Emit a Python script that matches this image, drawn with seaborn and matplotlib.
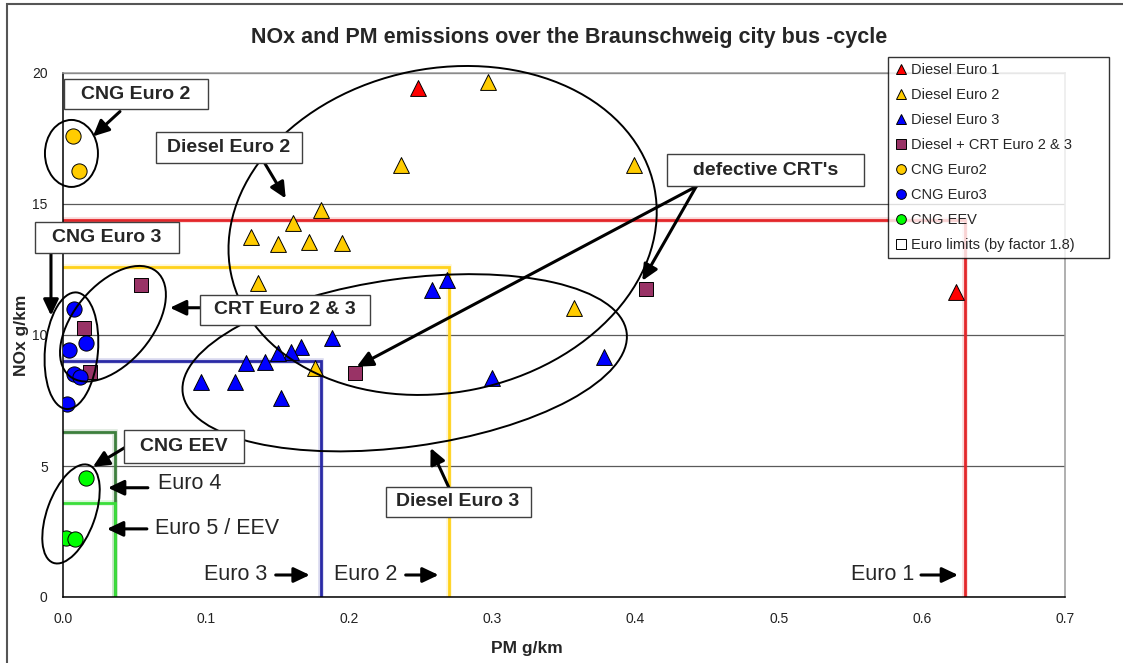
import matplotlib
matplotlib.use("Agg")
import matplotlib.pyplot as plt
import seaborn as sns
import pandas as pd
from matplotlib.transforms import Affine2D, ScaledTranslation
from matplotlib.patches import Ellipse, Rectangle
from matplotlib.lines import Line2D

# ---------------- data ----------------
title = "NOx and PM emissions over the Braunschweig city bus -cycle"
x_label = "PM g/km"
y_label = "NOx g/km"

diesel_e1_pm = [0.248, 0.624]
diesel_e1_nox = [19.43, 11.64]

diesel_e2_pm = [0.297, 0.236, 0.399, 0.180, 0.161, 0.131, 0.150, 0.172, 0.195, 0.136, 0.357, 0.176]
diesel_e2_nox = [19.66, 16.49, 16.49, 14.77, 14.27, 13.74, 13.47, 13.55, 13.51, 11.98, 11.03, 8.74]

diesel_e3_pm = [0.268, 0.258, 0.188, 0.166, 0.159, 0.150, 0.141, 0.128, 0.0965, 0.120, 0.152, 0.378, 0.300]
diesel_e3_nox = [12.10, 11.72, 9.89, 9.54, 9.35, 9.31, 8.97, 8.93, 8.21, 8.21, 7.60, 9.16, 8.36]

crt_pm = [0.0545, 0.0147, 0.019, 0.204, 0.407]
crt_nox = [11.90, 10.27, 8.60, 8.55, 11.76]

cng_e2_pm = [0.007, 0.011]
cng_e2_nox = [17.60, 16.26]

cng_e3_pm = [0.008, 0.016, 0.0042, 0.0077, 0.012, 0.0028]
cng_e3_nox = [10.99, 9.69, 9.43, 8.51, 8.40, 7.37]

cng_eev_pm = [0.016, 0.002, 0.0084]
cng_eev_nox = [4.54, 2.25, 2.21]

series_names = ["Diesel Euro 1", "Diesel Euro 2", "Diesel Euro 3",
                "Diesel + CRT Euro 2 & 3", "CNG Euro2", "CNG Euro3", "CNG EEV"]
legend_limits_name = "Euro limits (by factor 1.8)"

# Euro limits (already multiplied by factor 1.8)
euro_labels = ["Euro 1", "Euro 2", "Euro 3", "Euro 4", "Euro 5 / EEV"]
limit_nox = [14.4, 12.6, 9.0, 6.3, 3.6]
limit_pm = [0.63, 0.27, 0.18, 0.036, 0.036]

# ---------------- style ----------------
sns.set_style("white")
plt.rcParams["font.family"] = ["Liberation Sans", "DejaVu Sans"]

W, H = 1123, 663
fig = plt.figure(figsize=(W / 100, H / 100), dpi=100)
ax = fig.add_axes([63 / W, (H - 597) / H, (1065 - 63) / W, (597 - 73) / H])
ax.set_xlim(0, 0.7)
ax.set_ylim(0, 20)

# ---------------- limit lines ----------------
limit_colors = ["#e3262a", "#ffd21a", "#2a2aa6", "#3d7f3d", "#3ade3a"]
for nox, pm, col in zip(limit_nox, limit_pm, limit_colors):
    ax.plot([0, pm, pm], [nox, nox, 0], color=col, lw=4, alpha=0.18,
            solid_joinstyle="miter", zorder=2)
    ax.plot([0, pm, pm], [nox, nox, 0], color=col, lw=2.0,
            solid_joinstyle="miter", zorder=2.1)

# ---------------- scatter ----------------
groups = [
    (diesel_e1_pm, diesel_e1_nox, "^", "#ff0000", 130),
    (diesel_e2_pm, diesel_e2_nox, "^", "#ffcc00", 130),
    (diesel_e3_pm, diesel_e3_nox, "^", "#0000ff", 130),
    (crt_pm, crt_nox, "s", "#993366", 92),
    (cng_e2_pm, cng_e2_nox, "o", "#ffcc00", 120),
    (cng_e3_pm, cng_e3_nox, "o", "#0000ff", 120),
    (cng_eev_pm, cng_eev_nox, "o", "#00ff00", 120),
]
for (xs, ys, mk, col, s), name in zip(groups, series_names):
    df = pd.DataFrame({"pm": xs, "nox": ys})
    sns.scatterplot(data=df, x="pm", y="nox", marker=mk, color=col, s=s,
                    edgecolor="black", linewidth=0.7, ax=ax, zorder=3,
                    legend=False)

# ---------------- axes styling ----------------
ax.set_xticks([0, 0.1, 0.2, 0.3, 0.4, 0.5, 0.6, 0.7])
ax.set_xticklabels(["0.0", "0.1", "0.2", "0.3", "0.4", "0.5", "0.6", "0.7"])
ax.set_yticks([0, 5, 10, 15, 20])
ax.tick_params(axis="both", direction="out", length=5, width=1, colors="black",
               labelsize=10, labelcolor="#222222", pad=6)
ax.yaxis.grid(True, color="#5a5a5a", lw=0.9)
ax.xaxis.grid(False)
ax.set_axisbelow(True)
for side in ["left", "bottom"]:
    ax.spines[side].set_color("black")
    ax.spines[side].set_linewidth(1.1)
for side in ["top", "right"]:
    ax.spines[side].set_color("#9a9a9a")
    ax.spines[side].set_linewidth(1.1)

ax.set_xlabel(x_label, fontsize=12.5, fontweight="bold")
ax.set_ylabel(y_label, fontsize=12.5, fontweight="bold")
ax.xaxis.set_label_coords((527 - 63) / (1065 - 63), (597 - 648) / (597 - 73))
ax.yaxis.set_label_coords((22 - 63) / (1065 - 63), 0.5)
ax.xaxis.label.set_va("center")
ax.yaxis.label.set_va("center")

fig.text(569.5 / W, 1 - 37 / H, title, ha="center", va="center",
         fontsize=15.5, fontweight="bold")


# ---------------- annotations ----------------
def px_ellipse(cx, cy, a_px, b_px, ang):
    tr = Affine2D().scale(a_px, b_px).rotate_deg(ang) + ScaledTranslation(cx, cy, ax.transData)
    e = Ellipse((0, 0), 2, 2, transform=tr, fill=False, ec="black", lw=1.4,
                zorder=4, clip_on=False)
    ax.add_patch(e)


def px_box(cx, cy, w, h, txt):
    tr = ScaledTranslation(cx, cy, ax.transData)
    r = Rectangle((-w / 2, -h / 2), w, h, transform=tr, fc="white", ec="#404040",
                  lw=1.0, zorder=6, clip_on=False)
    ax.add_patch(r)
    ax.text(cx, cy, txt, ha="center", va="center", fontsize=14, fontweight="bold",
            zorder=7, clip_on=False)


def arrow(x0, y0, x1, y1):
    ax.annotate("", xy=(x1, y1), xytext=(x0, y0),
                arrowprops=dict(arrowstyle="-|>,head_length=0.8,head_width=0.38",
                                lw=2.2, color="black", shrinkA=0, shrinkB=0,
                                mutation_scale=12),
                annotation_clip=False, zorder=5)


# ellipses (centre in data units, semi-axes in pixels)
px_ellipse(0.0059, 16.93, 26.5, 33.5, 0)      # CNG Euro 2
px_ellipse(0.0059, 9.40, 26.5, 58.5, -5)      # CNG Euro 3
px_ellipse(0.0349, 10.43, 68, 39, 50)         # CRT Euro 2 & 3
px_ellipse(0.0056, 3.17, 52, 24, 70)          # CNG EEV
px_ellipse(0.2652, 13.99, 216, 162, 11.5)     # Diesel Euro 2
px_ellipse(0.2387, 8.94, 224, 84, 7.8)        # Diesel Euro 3

# arrows
arrow(0.0398, 18.53, 0.0209, 17.58)   # CNG Euro 2
arrow(0.1410, 16.55, 0.1556, 15.21)   # Diesel Euro 2
arrow(-0.0084, 13.14, -0.0084, 10.74) # CNG Euro 3
arrow(0.0956, 11.04, 0.0747, 11.04)   # CRT Euro 2 & 3
arrow(0.4424, 15.67, 0.4047, 12.07)   # defective CRT 1
arrow(0.4424, 15.67, 0.2052, 8.79)    # defective CRT 2
arrow(0.0440, 5.73, 0.0209, 4.97)     # CNG EEV
arrow(0.0593, 4.17, 0.0314, 4.17)     # Euro 4
arrow(0.0586, 2.60, 0.0307, 2.60)     # Euro 5
arrow(0.1486, 0.84, 0.1724, 0.84)     # Euro 3
arrow(0.2394, 0.84, 0.2624, 0.84)     # Euro 2
arrow(0.5994, 0.84, 0.6253, 0.84)     # Euro 1
arrow(0.2694, 4.20, 0.2568, 5.69)     # Diesel Euro 3

# text boxes
px_box(0.0509, 19.18, 144, 30, "CNG Euro 2")
px_box(0.1158, 17.14, 146, 31, "Diesel Euro 2")
px_box(0.0307, 13.74, 144, 31, "CNG Euro 3")
px_box(0.1549, 10.97, 170, 30, "CRT Euro 2 & 3")
px_box(0.4909, 16.28, 197, 32, "defective CRT's")
px_box(0.0844, 5.75, 120, 33, "CNG EEV")
px_box(0.2760, 3.63, 145, 30, "Diesel Euro 3")

# limit labels
label_pos = {"Euro 1": (0.5506, 0.86), "Euro 2": (0.1891, 0.86), "Euro 3": (0.0984, 0.86),
             "Euro 4": (0.0663, 4.32), "Euro 5 / EEV": (0.0642, 2.60)}
for lab in euro_labels:
    x, y = label_pos[lab]
    ax.text(x, y, lab, ha="left", va="center", fontsize=15.5, zorder=6)

# ---------------- legend ----------------
handles = []
for (xs, ys, mk, col, s), name in zip(groups, series_names):
    handles.append(Line2D([], [], linestyle="none", marker=mk, markerfacecolor=col,
                          markeredgecolor="black", markeredgewidth=0.7,
                          markersize=7 if mk != "s" else 6.5, label=name))
handles.append(Line2D([], [], linestyle="none", marker="s", markerfacecolor="white",
                      markeredgecolor="black", markeredgewidth=0.7, markersize=6.5,
                      label=legend_limits_name))
leg = fig.legend(handles=handles, loc="upper left",
                 bbox_to_anchor=(888 / W, (H - 258) / H, 221 / W, 201 / H),
                 mode="expand", frameon=True, fancybox=False, shadow=False,
                 fontsize=10.5, labelspacing=0.76, handlelength=1.0,
                 handletextpad=0.2, borderpad=0.4, borderaxespad=0)
leg.get_frame().set_edgecolor("black")
leg.get_frame().set_linewidth(1.0)
leg.set_zorder(10)

# outer chart border (left and top visible)
fig.add_artist(Rectangle((7 / W, -0.2), 2.0, 1 - 4 / H + 0.2, transform=fig.transFigure,
                         fill=False, ec="#555555", lw=1.5))

fig.savefig("out.png", dpi=100)
